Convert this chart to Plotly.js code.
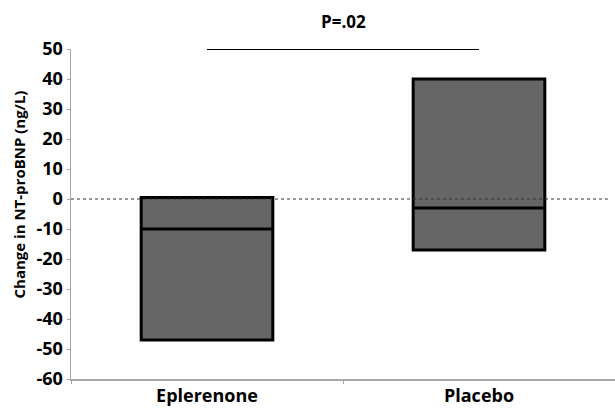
<!DOCTYPE html>
<html>
<head>
<meta charset="utf-8">
<script src="https://cdn.plot.ly/plotly-3.0.1.min.js"></script>
<style>html,body{margin:0;padding:0;background:#fff}</style>
</head>
<body>
<div id="chart" style="width:615px;height:409px"></div>
<script>
const categories = ["Eplerenone", "Placebo"];
const q1Values = [-47, -17];
const medianValues = [-10, -3];
const q3Values = [0.5, 40];
const sigY = 50;
const pLabel = "P=.02";
const yTickVals = [-60, -50, -40, -30, -20, -10, 0, 10, 20, 30, 40, 50];
const yTickText = ["-60", "-50", "-40", "-30", "-20", "-10", "0", "10", "20", "30", "40", "50"];
const yAxisTitle = "Change in NT-proBNP (ng/L)";

const fontFam = "'Open Sans', Lato, sans-serif";

const boxTrace = {
  type: "box",
  x: categories,
  q1: q1Values,
  median: medianValues,
  q3: q3Values,
  lowerfence: q1Values,
  upperfence: q3Values,
  width: 0.484,
  fillcolor: "#666666",
  line: {color: "#000000", width: 3},
  whiskerwidth: 0,
  hoverinfo: "skip",
  showlegend: false
};

const sigTrace = {
  type: "scatter",
  mode: "lines",
  x: categories,
  y: [sigY, sigY],
  line: {color: "#000000", width: 2},
  hoverinfo: "skip",
  showlegend: false,
  cliponaxis: false
};

const layout = {
  width: 615,
  height: 409,
  margin: {l: 71, r: 0, t: 49, b: 30},
  paper_bgcolor: "#ffffff",
  plot_bgcolor: "#ffffff",
  showlegend: false,
  xaxis: {
    type: "category",
    range: [-0.5, 1.5],
    showgrid: false,
    zeroline: false,
    showline: true,
    linecolor: "#a6a6a6",
    linewidth: 1.5,
    ticks: "outside",
    tickson: "boundaries",
    ticklen: 3,
    tickcolor: "#a6a6a6",
    tickfont: {family: fontFam, size: 18, color: "#000", weight: "bold"},
    fixedrange: true
  },
  yaxis: {
    range: [-60, 50],
    tickvals: yTickVals,
    ticktext: yTickText,
    showgrid: false,
    zeroline: false,
    showline: true,
    linecolor: "#a6a6a6",
    linewidth: 1.5,
    ticks: "outside",
    ticklen: 3,
    tickcolor: "#a6a6a6",
    tickfont: {family: fontFam, size: 18, color: "#000", weight: "bold"},
    fixedrange: true
  },
  shapes: [{
    type: "line", xref: "paper", yref: "y",
    x0: 0, x1: 0.987, y0: 0, y1: 0,
    line: {color: "#333333", width: 1, dash: "3px,3px"}
  }],
  annotations: [{
    xref: "x", yref: "y", x: 0.5, y: sigY,
    text: pLabel, showarrow: false, yanchor: "bottom", yshift: 14,
    font: {family: fontFam, size: 17, color: "#000", weight: "bold"}
  }, {
    xref: "paper", yref: "paper", x: -0.095, y: 0.56,
    xanchor: "center", yanchor: "middle", textangle: -90,
    text: yAxisTitle, showarrow: false,
    font: {family: fontFam, size: 15, color: "#000", weight: "bold"}
  }]
};

Plotly.newPlot("chart", [boxTrace, sigTrace], layout, {displayModeBar: false, staticPlot: true});
</script>
</body>
</html>
